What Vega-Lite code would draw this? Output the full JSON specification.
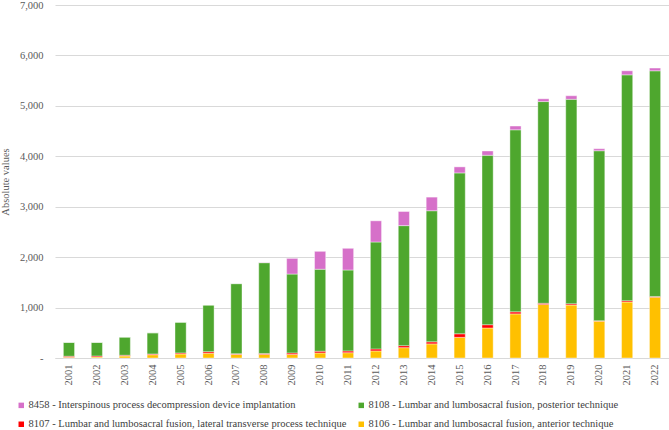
{
  "$schema": "https://vega.github.io/schema/vega-lite/v6.json",
  "width": 614,
  "height": 353,
  "autosize": "none",
  "padding": {"left": 55, "top": 5, "right": 0, "bottom": 72},
  "background": "white",
  "config": {
    "view": {"stroke": null},
    "font": "Times New Roman, Liberation Serif, serif",
    "axis": {"labelFont": "Times New Roman, Liberation Serif, serif", "titleFont": "Times New Roman, Liberation Serif, serif", "labelColor": "#595959", "titleColor": "#595959", "labelFontSize": 10.5, "titleFontSize": 10.5, "titleFontWeight": "normal"},
    "legend": {"labelFont": "Times New Roman, Liberation Serif, serif", "labelColor": "#404040", "labelFontSize": 10.5}
  },
  "data": {
    "values": [
      {"year": "2001", "a": 15, "b": 20, "c": 275, "d": 0},
      {"year": "2002", "a": 20, "b": 20, "c": 270, "d": 0},
      {"year": "2003", "a": 40, "b": 15, "c": 360, "d": 0},
      {"year": "2004", "a": 65, "b": 15, "c": 420, "d": 0},
      {"year": "2005", "a": 80, "b": 20, "c": 610, "d": 0},
      {"year": "2006", "a": 95, "b": 30, "c": 925, "d": 0},
      {"year": "2007", "a": 70, "b": 15, "c": 1390, "d": 0},
      {"year": "2008", "a": 70, "b": 20, "c": 1800, "d": 5},
      {"year": "2009", "a": 70, "b": 30, "c": 1565, "d": 310},
      {"year": "2010", "a": 100, "b": 35, "c": 1625, "d": 355},
      {"year": "2011", "a": 105, "b": 35, "c": 1605, "d": 430},
      {"year": "2012", "a": 140, "b": 40, "c": 2120, "d": 420},
      {"year": "2013", "a": 205, "b": 40, "c": 2380, "d": 280},
      {"year": "2014", "a": 280, "b": 40, "c": 2600, "d": 270},
      {"year": "2015", "a": 410, "b": 70, "c": 3190, "d": 120},
      {"year": "2016", "a": 595, "b": 65, "c": 3360, "d": 85},
      {"year": "2017", "a": 875, "b": 40, "c": 3610, "d": 75},
      {"year": "2018", "a": 1060, "b": 25, "c": 4000, "d": 55},
      {"year": "2019", "a": 1050, "b": 25, "c": 4055, "d": 70},
      {"year": "2020", "a": 730, "b": 10, "c": 3370, "d": 40},
      {"year": "2021", "a": 1110, "b": 25, "c": 4480, "d": 80},
      {"year": "2022", "a": 1205, "b": 15, "c": 4475, "d": 55}
    ]
  },
  "transform": [
    {"fold": ["a", "b", "c", "d"], "as": ["key", "value"]},
    {"lookup": "key", "from": {"data": {"values": [
      {"key": "a", "proc": "8106 - Lumbar and lumbosacral fusion, anterior technique"},
      {"key": "b", "proc": "8107 - Lumbar and lumbosacral fusion, lateral transverse process technique"},
      {"key": "c", "proc": "8108 - Lumbar and lumbosacral fusion, posterior technique"},
      {"key": "d", "proc": "8458 - Interspinous process decompression device implantation"}
    ]}, "key": "key", "fields": ["proc"]}}
  ],
  "mark": {"type": "bar", "stroke": "white", "strokeWidth": 0.4},
  "encoding": {
    "x": {
      "field": "year", "type": "ordinal",
      "scale": {"paddingInner": 0.6, "paddingOuter": 0.3},
      "axis": {"title": null, "labelAngle": -90, "ticks": false, "domainColor": "#d9d9d9", "labelPadding": 6, "labelBaseline": "middle"}
    },
    "y": {
      "field": "value", "type": "quantitative", "stack": "zero",
      "scale": {"domain": [0, 7000], "nice": false},
      "axis": {"title": "Absolute values", "values": [0, 1000, 2000, 3000, 4000, 5000, 6000, 7000], "labelExpr": "datum.value == 0 ? '-' : format(datum.value, ',')", "domain": false, "ticks": false, "gridColor": "#d9d9d9", "labelPadding": 12, "titlePadding": 9}
    },
    "color": {
      "field": "proc", "type": "nominal",
      "scale": {
        "domain": [
          "8458 - Interspinous process decompression device implantation",
          "8108 - Lumbar and lumbosacral fusion, posterior technique",
          "8107 - Lumbar and lumbosacral fusion, lateral transverse process technique",
          "8106 - Lumbar and lumbosacral fusion, anterior technique"
        ],
        "range": ["#D670C9", "#4EA72E", "#FF0000", "#FFC000"]
      },
      "legend": {"title": null, "orient": "none", "legendX": -39, "legendY": 395, "direction": "horizontal", "columns": 2, "columnPadding": 9, "rowPadding": 8, "symbolType": "square", "symbolSize": 30, "symbolStrokeWidth": 0, "labelOffset": 2, "labelLimit": 400}
    },
    "order": {"field": "proc", "sort": "ascending"}
  }
}
